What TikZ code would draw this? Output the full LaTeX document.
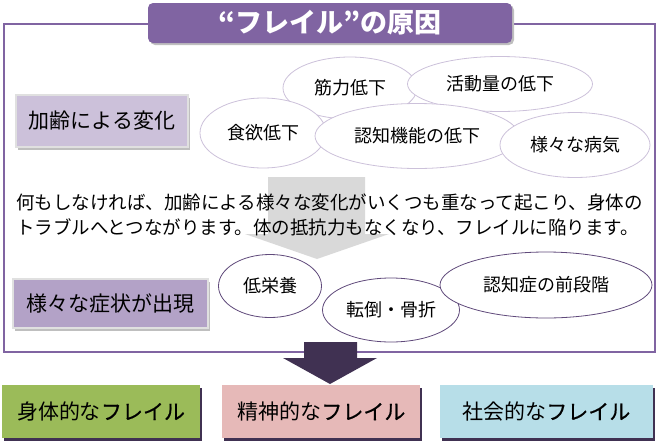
\documentclass[tikz,border=0pt]{standalone}
\usepackage{fontspec}
\setmainfont{Noto Sans CJK JP}
\newfontfamily\semibold[FakeBold=0.7]{Noto Sans CJK JP}
\usetikzlibrary{positioning}
\usetikzlibrary{shapes.geometric}
\usetikzlibrary{shadows}
\definecolor{pFrame}{HTML}{8064A2}
\definecolor{pLight}{HTML}{CCC1DA}
\definecolor{pMid}{HTML}{B3A2C7}
\definecolor{pDark}{HTML}{403152}
\definecolor{pEdge}{HTML}{604A7B}
\definecolor{pArrow}{HTML}{D9D9D9}
\definecolor{pShade}{HTML}{BFBFBF}
\definecolor{pGreen}{HTML}{9BBB59}
\definecolor{pPink}{HTML}{E6B9B8}
\definecolor{pBlue}{HTML}{B7DEE8}

\begin{document}
\begin{tikzpicture}[x=1pt, y=-1pt,
  bubble/.style={ellipse, draw=pLight, line width=0.8pt, fill=white, inner sep=0pt, font=\fontsize{18}{20}\selectfont},
  lowbubble/.style={bubble, draw=pEdge},
  stage/.style={draw=white!88!black, line width=1.2pt, inner sep=0pt, font=\fontsize{21}{24}\selectfont,
    drop shadow={shadow xshift=2pt, shadow yshift=-3pt, fill=pShade, opacity=1}},
  kind/.style={minimum height=53pt, inner sep=0pt, font=\fontsize{21}{24}\selectfont,
    drop shadow={shadow xshift=2pt, shadow yshift=-3pt, fill=pDark, opacity=1}}]
  \useasboundingbox (0,0) rectangle (662,445);

  % outer frame and title
  \draw[pFrame, line width=2.5pt] (4,24) rectangle (655,352);
  \node[fill=pFrame, rounded corners=5pt, minimum width=364pt, minimum height=40pt, text=white,
    font=\fontsize{27}{29}\selectfont\bfseries,
    drop shadow={shadow xshift=2pt, shadow yshift=-2pt, fill=pShade, opacity=1}] (title) at (330,23) {“フレイル”の原因};

  \node[stage, fill=pLight, minimum width=172pt, minimum height=52pt] (aging) at (102,121) {加齢による変化};
  \node[stage, fill=pMid, minimum width=195pt, minimum height=49pt] (symptoms) at (110.5,303.5) {様々な症状が出現};

  % changes with age
  \node[bubble, minimum width=134pt, minimum height=62pt] (muscle) at (350,88) {筋力低下};
  \node[bubble, minimum width=185pt, minimum height=55pt] (activity) at (500,84) {活動量の低下};
  \node[bubble, minimum width=126pt, minimum height=70pt] (appetite) at (263,133) {食欲低下};
  \node[bubble, minimum width=204pt, minimum height=65pt] (cognition) at (417,136) {認知機能の低下};
  \node[bubble, minimum width=150pt, minimum height=65pt] (illness) at (575,145) {様々な病気};

  % gray arrow behind the text
  \fill[pArrow] (268,177) -- (365,177) -- (365,234) -- (389,234) -- (317,259) -- (245,234) -- (268,234) -- cycle;
  \node[anchor=west, align=left, inner sep=0pt, font=\fontsize{18.5}{25}\selectfont] (cause) at (16,214.5)
    {何もしなければ、加齢による様々な変化がいくつも重なって起こり、身体の\\トラブルへとつながります。体の抵抗力もなくなり、フレイルに陥ります。};

  % symptoms
  \node[lowbubble, minimum width=103pt, minimum height=63pt] (nutrition) at (270,286) {低栄養};
  \node[lowbubble, minimum width=137pt, minimum height=64pt] (fall) at (391,310) {転倒・骨折};
  \node[lowbubble, minimum width=212pt, minimum height=66pt] (predementia) at (546,285) {認知症の前段階};

  % dark arrow down to the three kinds
  \fill[pDark] (304,342) -- (357,342) -- (357,358) -- (377,358) -- (330,384) -- (283,358) -- (304,358) -- cycle;

  \node[kind, fill=pGreen, minimum width=198pt] (physical) at (101,411.5) {身体的な{\semibold フレイル}};
  \node[kind, fill=pPink, minimum width=198pt, right=22pt of physical] (mental) {精神的な{\semibold フレイル}};
  \node[kind, fill=pBlue, minimum width=213pt, right=19pt of mental] (social) {社会的な{\semibold フレイル}};
\end{tikzpicture}
\end{document}
